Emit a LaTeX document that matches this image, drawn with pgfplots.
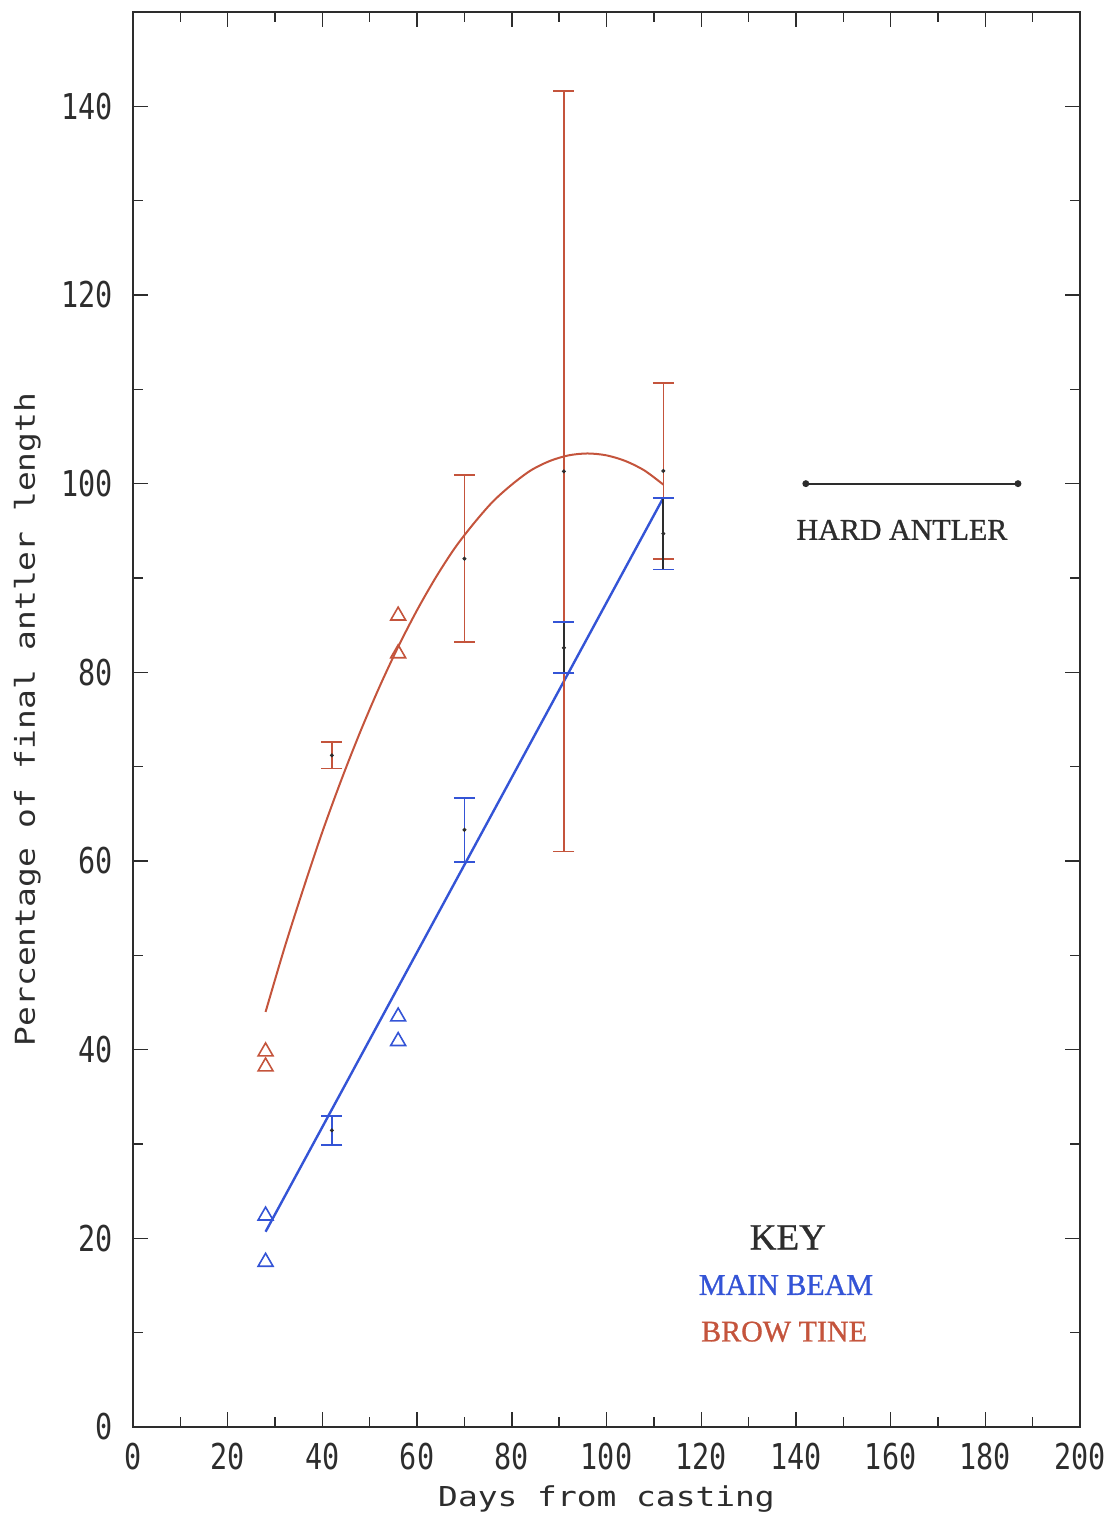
\documentclass[border=0pt]{standalone}
\usepackage{fontspec}
\setmainfont{Liberation Serif}
\newfontfamily\ticksfont[FakeStretch=0.8]{DejaVu Sans Mono}
\newfontfamily\labsfont[FakeStretch=1.2]{DejaVu Sans Mono}
\newfontfamily\keyfont[FakeBold=0.9]{Liberation Serif}
\usepackage{pgfplots}
\pgfplotsset{compat=1.18}

\definecolor{browred}{RGB}{196,84,60}
\definecolor{beamblue}{RGB}{52,84,214}
\definecolor{inkgray}{RGB}{45,45,45}

\begin{document}
\begin{tikzpicture}
\useasboundingbox (-66.5pt,-47pt) rectangle (488.5pt,713.5pt);
\begin{axis}[
  at={(0pt,0pt)}, anchor=south west,
  scale only axis, width=473.5pt, height=707.5pt,
  xmin=0, xmax=200, ymin=0, ymax=150,
  xtick={0,20,...,200}, ytick={0,20,...,140},
  minor x tick num=1, minor y tick num=1,
  tick align=inside, xtick pos=both, ytick pos=both,
  major tick length=7.5pt, minor tick length=5pt,
  axis line style={inkgray, line width=1pt},
  every tick/.style={inkgray, line width=0.7pt},
  /pgf/number format/assume math mode=true,
  ticklabel style={font=\ticksfont\fontsize{17.8}{20}\selectfont, text=inkgray},
  yticklabel style={anchor=east, inner sep=0pt, xshift=-10pt},
  xticklabel style={anchor=north, inner sep=0pt, yshift=-8pt},
  clip=false,
]

% brow tine: fitted curve
\addplot[browred, line width=1pt, smooth] coordinates {
  (28,44.0) (32,50.8) (36,57.1) (40,63.1) (44,68.6) (48,73.7) (52,78.4)
  (56,82.7) (60,86.6) (64,90.1) (68,93.2) (72,95.8) (76,98.1) (80,99.9)
  (84,101.4) (88,102.4) (92,103.0) (96,103.2) (100,103.0) (104,102.4)
  (108,101.4) (112,99.9)
};
% main beam: fitted line
\addplot[beamblue, line width=1.2pt] coordinates {(28,20.7) (112,98.5)};

% brow tine means with error bars
\addplot[only marks, mark=*, mark size=0.8pt, mark options={fill=inkgray, draw=inkgray},
  error bars/.cd, y dir=both, y explicit,
  error bar style={browred, line width=0.8pt},
  error mark options={rotate=90, browred, line width=0.8pt, mark size=5.25pt}]
  coordinates {
  (42,71.2) +- (0,1.4)
  (70,92.05) +- (0,8.85)
  (91,101.3) +- (0,40.3)
  (112,101.35) +- (0,9.35)
};
% main beam means with error bars
\addplot[only marks, mark=*, mark size=0.8pt, mark options={fill=inkgray, draw=inkgray},
  error bars/.cd, y dir=both, y explicit,
  error bar style={beamblue, line width=0.9pt},
  error mark options={rotate=90, beamblue, line width=0.9pt, mark size=5.25pt}]
  coordinates {
  (42,31.45) +- (0,1.55)
  (70,63.3) +- (0,3.4)
};
\addplot[only marks, mark=*, mark size=0.8pt, mark options={fill=inkgray, draw=inkgray},
  error bars/.cd, y dir=both, y explicit,
  error bar style={inkgray, line width=0.9pt},
  error mark options={rotate=90, beamblue, line width=0.9pt, mark size=5.25pt}]
  coordinates {
  (91,82.6) +- (0,2.7)
  (112,94.7) +- (0,3.8)
};

% single observations
\addplot[only marks, mark=triangle, mark size=4.3pt, mark options={browred, line width=0.8pt}]
  coordinates {(28,39.8) (28,38.2) (56,86.0) (56,82.0)};
\addplot[only marks, mark=triangle, mark size=4.3pt, mark options={beamblue, line width=0.8pt}]
  coordinates {(28,22.4) (28,17.5) (56,43.5) (56,40.9)};

% hard antler level
\addplot[inkgray, line width=1pt, mark=*, mark size=1.2pt] coordinates {(142.1,100) (186.9,100)};
\node[font=\keyfont\fontsize{15}{18}\selectfont, text=inkgray] at (axis cs:162.4,95.1) {HARD ANTLER};

% key
\node[font=\keyfont\fontsize{18.5}{22}\selectfont, text=inkgray] at (axis cs:138.3,20.1) {KEY};
\node[font=\keyfont\fontsize{15}{18}\selectfont, text=beamblue] at (axis cs:137.9,15.05) {MAIN BEAM};
\node[font=\keyfont\fontsize{15}{18}\selectfont, text=browred] at (axis cs:137.5,10.1) {BROW TINE};
\end{axis}
\node[rotate=90, anchor=base, font=\labsfont\fontsize{13.7}{16}\selectfont, text=inkgray]
  at (-49pt,353.75pt) {Percentage of final antler length};
\node[anchor=base, font=\labsfont\fontsize{13.7}{16}\selectfont, text=inkgray]
  at (236.75pt,-40pt) {Days from casting};
\end{tikzpicture}
\end{document}
